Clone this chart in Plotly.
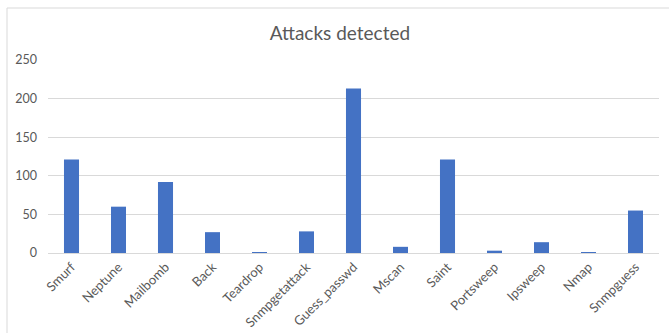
import plotly.graph_objects as go

# Attack categories and detection counts
attacks = ["Smurf", "Neptune", "Mailbomb", "Back", "Teardrop", "Snmpgetattack",
           "Guess_passwd", "Mscan", "Saint", "Portsweep", "Ipsweep", "Nmap", "Snmpguess"]
detected = [121, 60, 92, 27, 1, 28, 213, 8, 121, 3, 14, 1, 55]

y_ticks = [0, 50, 100, 150, 200, 250]

FONT = "Lato"
GREY = "#595959"

fig = go.Figure(
    go.Bar(
        x=attacks,
        y=detected,
        marker=dict(color="#4472C4", line=dict(width=0)),
    )
)

fig.update_layout(
    width=669,
    height=333,
    margin=dict(l=48, r=10, t=60, b=80),
    paper_bgcolor="white",
    plot_bgcolor="white",
    bargap=0.68,
    showlegend=False,
    title=dict(
        text="Attacks detected",
        x=0.508,
        xanchor="center",
        y=1 - 33 / 333,
        yanchor="middle",
        font=dict(family=FONT, size=19, color=GREY),
    ),
    font=dict(family=FONT, size=13, color=GREY),
    shapes=[
        # outer chart frame (left and top edges visible)
        dict(type="rect", xref="paper", yref="paper",
             x0=-41 / 611, x1=1.2, y0=-0.6, y1=1 + 52 / 193,
             line=dict(color="#d9d9d9", width=1), layer="below"),
    ],
)

fig.update_xaxes(
    tickangle=-45,
    showgrid=False,
    showline=False,
    ticks="",
    automargin=False,
    ticklabelstandoff=3,
    tickfont=dict(family=FONT, size=13, color=GREY),
)

fig.update_yaxes(
    range=[0, 250],
    tickvals=y_ticks,
    showgrid=True,
    gridcolor="#d9d9d9",
    gridwidth=1,
    zeroline=True,
    zerolinecolor="#d9d9d9",
    zerolinewidth=1,
    showline=False,
    ticks="",
    automargin=False,
    ticklabelstandoff=10,
    tickfont=dict(family=FONT, size=12.5, color=GREY),
)

fig.write_html("out.html")
